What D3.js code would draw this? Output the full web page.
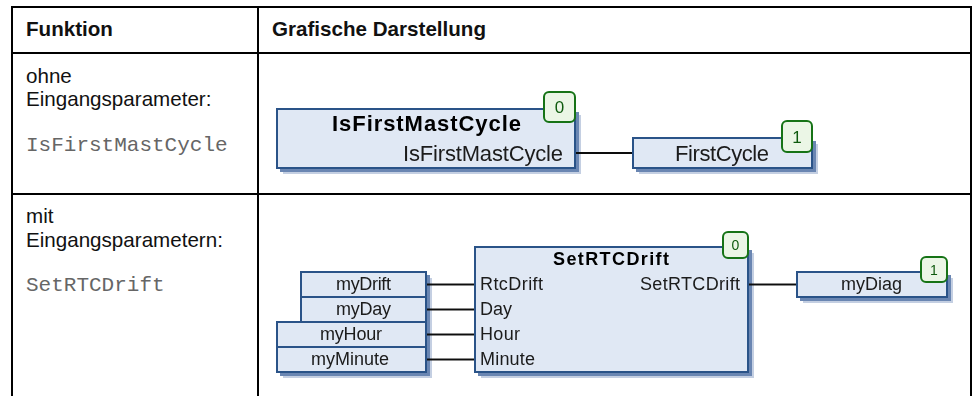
<!DOCTYPE html>
<html lang="de">
<head>
<meta charset="utf-8">
<script src="https://cdn.jsdelivr.net/npm/d3@7.9.0/dist/d3.min.js"></script>
<style>
  html, body { margin: 0; background: #fff; }
  svg { display: block; }
  .cell { font-family: "Liberation Sans", Arial, sans-serif; font-size: 20.6px; fill: #111; }
  .cell.head { font-weight: bold; }
  .cell.code { font-family: "Liberation Mono", "Courier New", monospace; font-size: 21px; fill: #666; }
  .fbd { font-family: "Liberation Sans", Arial, sans-serif; fill: #1a1a1a; }
</style>
</head>
<body>
<div id="chart"></div>
<script>
// table content
const tableHeaders = ['Funktion', 'Grafische Darstellung'];
const rowDescriptions = [['ohne', 'Eingangsparameter:'], ['mit', 'Eingangsparametern:']];
const rowFunctions = ['IsFirstMastCycle', 'SetRTCDrift'];

// function block diagrams
const blockNames = ['IsFirstMastCycle', 'SetRTCDrift'];
const executionOrder = [0, 1];
const firstOutputVar = 'FirstCycle';
const secondOutputVar = 'myDiag';
const inputVars = ['myDrift', 'myDay', 'myHour', 'myMinute'];
const inputPins = ['RtcDrift', 'Day', 'Hour', 'Minute'];

const width = 973;
const height = 396;

const svg = d3.select('#chart').append('svg')
  .attr('width', width)
  .attr('height', height)
  .attr('viewBox', `0 0 ${width} ${height}`);

// the diagrams are scaled-up screenshots in the source, a slight blur gets close to that
svg.append('defs').append('filter')
  .attr('id', 'soft')
  .append('feGaussianBlur')
  .attr('stdDeviation', 0.35);

// --- table ---
const colX = d3.scaleOrdinal().domain(['left', 'mid', 'right']).range([12, 258, 971]);
const rowY = d3.scaleOrdinal().domain(['top', 'head', 'split', 'bottom']).range([7, 53, 194, 396]);

const grid = svg.append('g').attr('stroke', '#000').attr('stroke-width', 2);
grid.selectAll('line.v')
  .data(colX.domain())
  .join('line')
  .attr('class', 'v')
  .attr('x1', d => colX(d)).attr('x2', d => colX(d))
  .attr('y1', rowY('top') - 1).attr('y2', rowY('bottom'));
grid.selectAll('line.h')
  .data(['top', 'head', 'split'])
  .join('line')
  .attr('class', 'h')
  .attr('x1', colX('left') - 1).attr('x2', colX('right') + 1)
  .attr('y1', d => rowY(d)).attr('y2', d => rowY(d));

const headX = [26, 272];
svg.selectAll('text.head')
  .data(tableHeaders)
  .join('text')
  .attr('class', 'cell head')
  .attr('x', (d, i) => headX[i])
  .attr('y', 36)
  .text(d => d);

const descY = [[82.5, 106], [223, 247]];
const codeY = [150.5, 291];
rowDescriptions.forEach((lines, r) => {
  svg.selectAll(`text.desc${r}`)
    .data(lines)
    .join('text')
    .attr('class', `cell desc${r}`)
    .attr('x', 26)
    .attr('y', (d, i) => descY[r][i])
    .text(d => d);
});
svg.selectAll('text.code')
  .data(rowFunctions)
  .join('text')
  .attr('class', 'cell code')
  .attr('x', 26)
  .attr('y', (d, i) => codeY[i])
  .text(d => d);

// --- diagram helpers ---
const fbd = svg.append('g').attr('class', 'fbd').attr('filter', 'url(#soft)');

function drawBox(b) {
  fbd.append('rect')
    .attr('x', b.x0 + 6).attr('y', b.y0 + 6)
    .attr('width', b.x1 - b.x0).attr('height', b.y1 - b.y0)
    .attr('fill', '#c4cfe2');
  fbd.append('rect')
    .attr('x', b.x0 + 3).attr('y', b.y0 + 3)
    .attr('width', b.x1 - b.x0 + 1).attr('height', b.y1 - b.y0 + 1)
    .attr('fill', '#6a86b2');
  fbd.append('rect')
    .attr('x', b.x0).attr('y', b.y0)
    .attr('width', b.x1 - b.x0).attr('height', b.y1 - b.y0)
    .attr('fill', '#e0e8f4')
    .attr('stroke', '#2c5288')
    .attr('stroke-width', 2);
}

function drawBadge(b, value, size) {
  fbd.append('rect')
    .attr('x', b.x0).attr('y', b.y0)
    .attr('width', b.x1 - b.x0).attr('height', b.y1 - b.y0)
    .attr('rx', 5)
    .attr('fill', '#ebf6e6')
    .attr('stroke', '#157315')
    .attr('stroke-width', 2);
  fbd.append('text')
    .attr('x', (b.x0 + b.x1) / 2)
    .attr('y', (b.y0 + b.y1) / 2 + size * 0.36)
    .attr('text-anchor', 'middle')
    .attr('font-size', size)
    .attr('fill', '#0f5a0f')
    .text(value);
}

function drawWire(x0, x1, y) {
  fbd.append('line')
    .attr('x1', x0).attr('x2', x1)
    .attr('y1', y).attr('y2', y)
    .attr('stroke', '#111')
    .attr('stroke-width', 1.8);
}

// bitmap text in the source is wider than the outline font, so stretch to the measured span
function drawLabel(str, x0, x1, y, size, bold) {
  fbd.append('text')
    .attr('x', x0).attr('y', y)
    .attr('font-size', size)
    .attr('font-weight', bold ? 'bold' : 'normal')
    .attr('fill', bold ? '#000' : '#1a1a1a')
    .attr('textLength', x1 - x0)
    .attr('lengthAdjust', 'spacing')
    .text(str);
}

// --- first network ---
drawBox({ x0: 277, x1: 575, y0: 109, y1: 168 });
drawBox({ x0: 633, x1: 812, y0: 138, y1: 168 });
drawWire(576, 632, 153);
drawBadge({ x0: 544, x1: 575, y0: 92, y1: 122 }, executionOrder[0], 17);
drawLabel(blockNames[0], 332, 521, 130.5, 22, true);
drawLabel(blockNames[0], 403, 563, 160.5, 22, false);
drawBadge({ x0: 782, x1: 812, y0: 121, y1: 152 }, executionOrder[1], 17);
drawLabel(firstOutputVar, 675, 769, 161, 22, false);

// --- second network ---
const pinY = d3.scaleBand().domain(inputVars).range([272, 372]);
const inputLeft = d3.scaleOrdinal().domain(inputVars).range([301, 301, 277, 277]);
const varSpan = d3.scaleOrdinal().domain(inputVars).range([[336, 391], [336, 391], [320, 382], [311, 389]]);
const pinSpan = d3.scaleOrdinal().domain(inputPins).range([[480, 543], [480, 512], [480, 520], [480, 535]]);

inputVars.forEach(name => {
  drawBox({ x0: inputLeft(name), x1: 426, y0: pinY(name), y1: pinY(name) + pinY.bandwidth() });
});
drawBox({ x0: 475, x1: 748, y0: 247, y1: 372 });
drawBox({ x0: 797, x1: 947, y0: 272, y1: 297 });

inputVars.forEach((name, i) => {
  const top = pinY(name);
  drawWire(427, 474, top + pinY.bandwidth() / 2);
  const s = varSpan(name);
  drawLabel(name, s[0], s[1], top + 18, 18, false);
  const p = pinSpan(inputPins[i]);
  drawLabel(inputPins[i], p[0], p[1], top + 18, 18, false);
});

drawWire(749, 796, pinY(inputVars[0]) + pinY.bandwidth() / 2);
drawBadge({ x0: 723, x1: 748, y0: 232, y1: 258 }, executionOrder[0], 14);
drawLabel(blockNames[1], 553, 669, 265, 18, true);
drawLabel(blockNames[1], 640, 740, 290, 18, false);
drawBadge({ x0: 921, x1: 947, y0: 257, y1: 282 }, executionOrder[1], 14);
drawLabel(secondOutputVar, 841, 902, 290, 18, false);
</script>
</body>
</html>
